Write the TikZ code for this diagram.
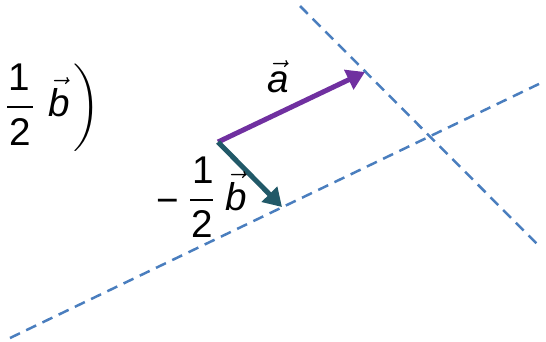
\documentclass[tikz,border=0pt]{standalone}
\usepackage{amsmath}
\usepackage{fontspec}
\setmainfont{Liberation Sans}
\usetikzlibrary{arrows.meta}
\definecolor{vecpurple}{RGB}{112,48,160}
\definecolor{vecteal}{RGB}{33,89,104}
\definecolor{guideblue}{RGB}{74,126,190}
\tikzset{
  vecarrow/.style={-{Triangle[length=0.36cm,width=0.42cm]},line width=0.1cm},
  guideline/.style={draw=guideblue,line width=0.05cm,
    dash pattern=on 0.22cm off 0.14cm},
  veclabel/.style={inner sep=0pt,anchor=base,font=\fontsize{22}{26}\selectfont},
  fracbar/.style={line width=0.035cm},
}

\begin{document}
\begin{tikzpicture}[x=0.02cm,y=-0.02cm]
  \useasboundingbox (0,0) rectangle (546,341);
  % origin and vector tips
  \coordinate (o) at (218,142);
  \coordinate (a) at (365,72);
  \coordinate (mb) at (282,207);
  % free ends of the guide lines
  \coordinate (g1s) at (300,6);
  \coordinate (g1e) at (539,246);
  \coordinate (g2s) at (10,338);
  \coordinate (g2e) at (543,82);
  \draw[guideline] (g1s) -- (g1e);
  \draw[guideline] (g2s) -- (g2e);
  \draw[vecarrow,color=vecpurple] (o) -- (a);
  \draw[vecarrow,color=vecteal] (o) -- (mb);
  \node[veclabel] (alabel) at (278,92) {$\vec{\textit{a}}$};
  % -1/2 b
  \node[veclabel] (mbminus) at (168,213) {−};
  \node[veclabel] (mbnum) at (203,183) {1};
  \node[veclabel] (mbden) at (202,237) {2};
  \coordinate (mbbarl) at (190,200);
  \coordinate (mbbarr) at (213,200);
  \draw[fracbar] (mbbarl) -- (mbbarr);
  \node[veclabel] (mbb) at (236,210) {$\vec{\textit{b}}$};
  % 1/2 b )
  \node[veclabel] (hbnum) at (19,90) {1};
  \node[veclabel] (hbden) at (20,145) {2};
  \coordinate (hbbarl) at (7,107);
  \coordinate (hbbarr) at (33,107);
  \draw[fracbar] (hbbarl) -- (hbbarr);
  \node[veclabel] (hbb) at (59,116) {$\vec{\textit{b}}$};
  \node[veclabel,anchor=center] (hbparen) at (87,107.5) {$\bigg)$};
\end{tikzpicture}
\end{document}
